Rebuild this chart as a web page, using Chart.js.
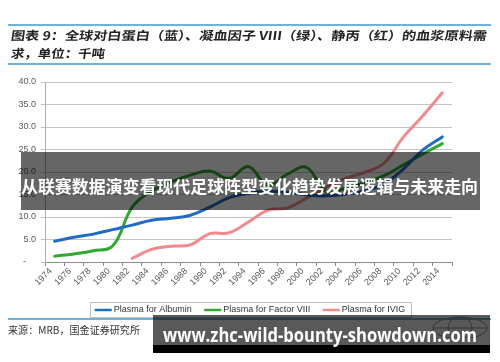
<!DOCTYPE html>
<html><head><meta charset="utf-8">
<script src="https://cdn.jsdelivr.net/npm/chart.js@4"></script>
<style>
html,body{margin:0;padding:0;background:#fff;}
#wrap{position:relative;width:500px;height:362px;overflow:hidden;background:#fff;}
#c{position:absolute;left:0;top:0;}
.rule{position:absolute;height:2px;background:#6ab4dc;}
.t{position:absolute;white-space:nowrap;transform-origin:0 0;}
</style></head><body>
<div id="wrap">
<canvas id="c" width="500" height="362"></canvas>
<div class="rule" style="left:8px;top:24px;width:483px"></div>
<div class="t" id="t1" style="left:12px;top:29px;font:700 12px/12px 'Noto Sans CJK SC';color:#222">图表 9：全球对白蛋白（蓝）、凝血因子 VIII（绿）、静丙（红）的血浆原料需</div>
<div class="t" id="t2" style="left:12px;top:47px;font:700 12px/12px 'Noto Sans CJK SC';color:#222">求，单位：千吨</div>
<div class="rule" style="left:8px;top:63px;width:483px"></div>
<div class="rule" style="left:8px;top:318px;width:483px;height:1.5px"></div>
<div class="t" id="src" style="left:8px;top:325px;font:400 10px/10px 'Noto Sans CJK SC';color:#333">来源：MRB，国金证券研究所</div>
<svg style="position:absolute;left:425px;top:308px" width="70" height="30"><ellipse cx="35" cy="20" rx="27" ry="11" fill="none" stroke="#999" stroke-width="1"/><ellipse cx="35" cy="20" rx="12" ry="11" fill="none" stroke="#999" stroke-width="1"/><line x1="8" y1="20" x2="62" y2="20" stroke="#999"/></svg>
<div style="position:absolute;left:21px;top:152px;width:459px;height:58px;background:rgba(0,0,0,0.6)"></div>
<div class="t" id="b1" style="left:21px;top:176.5px;font:700 17px/17px 'Noto Sans CJK SC';color:#fff">从联赛数据演变看现代足球阵型变化趋势发展逻辑与未来走向</div>
<div style="position:absolute;left:153px;top:315px;width:337px;height:30px;background:rgba(0,0,0,0.65)"></div>
<div style="position:absolute;left:153px;top:345px;width:337px;height:8px;background:#000"></div>
<div class="t" id="b2" style="left:163px;top:326px;font:700 19px/19px 'Open Sans';color:#fff">www.zhc-wild-bounty-showdown.com</div>
</div>
<script>
const years = ['1974','1976','1978','1980','1982','1984','1986','1988','1990','1992','1994','1996','1998','2000','2002','2004','2006','2008','2010','2012','2014'];
const seriesNames = ['Plasma for Albumin','Plasma for Factor VIII','Plasma for IVIG'];
const albumin = [4.6, 5.5, 6.2, 7.2, 8.2, 9.3, 9.7, 10.4, 12.2, 14.3, 15.3, 15.7, 15.5, 14.9, 14.7, 15.1, 15.8, 17.4, 20.7, 24.9, 27.8];
const factorVIII = [1.3, 1.8, 2.5, 3.6, 12.2, 15.8, 17.8, 19.3, 20.2, 18.6, 21.2, 17.0, 19.5, 21.0, 15.6, 16.4, 17.6, 19.2, 21.6, 24.0, 26.3];
const ivig = [null, null, null, null, 0.8, 2.8, 3.5, 3.8, 6.3, 6.5, 8.9, 11.5, 12.0, 14.2, 16.6, 18.6, 19.9, 22.0, 27.8, 32.5, 37.6];
const colors = ['#1f6cc4', '#2eab2e', '#f4898c'];

function fit(id, w, extra) {
  const el = document.getElementById(id);
  const cur = el.getBoundingClientRect().width;
  el.style.transform = (extra || '') + ' scaleX(' + (w / cur) + ')';
}
fit('t1', 476, 'skewX(-8deg)');
fit('t2', 94, 'skewX(-8deg)');
fit('src', 132);
fit('b1', 457);
fit('b2', 314);

const legendPlugin = {
  id: 'boxLegend',
  afterDraw(chart) {
    const ctx = chart.ctx;
    ctx.save();
    ctx.font = '9px "Liberation Sans"';
    const sample = 17, gap1 = 2, gap2 = 12.5, padX = 5;
    const widths = chart.data.datasets.map(d => ctx.measureText(d.label).width);
    let total = padX * 2;
    widths.forEach((w, i) => { total += sample + gap1 + w + (i < widths.length - 1 ? gap2 : 0); });
    const left = 250 - total / 2, top = 302, h = 15;
    ctx.strokeStyle = '#bfbfbf'; ctx.lineWidth = 1;
    ctx.strokeRect(Math.round(left) + 0.5, top + 0.5, Math.round(total), h);
    let x = left + padX;
    const yc = top + h / 2 + 0.5;
    chart.data.datasets.forEach((d, i) => {
      ctx.strokeStyle = d.borderColor; ctx.lineWidth = 2.5;
      ctx.beginPath(); ctx.moveTo(x, yc); ctx.lineTo(x + sample, yc); ctx.stroke();
      x += sample + gap1;
      ctx.fillStyle = '#333'; ctx.textBaseline = 'middle'; ctx.textAlign = 'left';
      ctx.fillText(d.label, x, yc);
      x += widths[i] + gap2;
    });
    ctx.restore();
  }
};

const mk = (i, data) => ({label: seriesNames[i], data, borderColor: colors[i], backgroundColor: colors[i], borderWidth: 3, pointRadius: 0, tension: 0.4, fill: false, borderCapStyle: 'round'});

new Chart(document.getElementById('c').getContext('2d'), {
  type: 'line',
  data: {labels: years, datasets: [mk(0, albumin), mk(1, factorVIII), mk(2, ivig)]},
  options: {
    responsive: false, animation: false, devicePixelRatio: 1,
    layout: {padding: {top: 82, right: 48, bottom: 60, left: 0}},
    plugins: {legend: {display: false}, tooltip: {enabled: false}},
    scales: {
      x: {
        type: 'category', offset: true,
        grid: {display: true, offset: true, drawOnChartArea: false, drawTicks: true, tickLength: 4, color: '#8c8c8c'},
        border: {color: '#8c8c8c'},
        ticks: {autoSkip: false, maxRotation: 45, minRotation: 45, font: {size: 9, family: 'Liberation Sans'}, color: '#595959', padding: 0, labelOffset: -4},
        afterFit(s) { s.height = 40; }
      },
      y: {
        min: 0, max: 40,
        ticks: {stepSize: 5, font: {size: 9, family: 'Liberation Sans'}, color: '#595959', padding: 5,
          callback: v => v === 0 ? '-    ' : v.toFixed(1)},
        grid: {color: '#c4c4c4', tickLength: 4},
        border: {color: '#b0b0b0'},
        afterFit(s) { s.width = 45; }
      }
    }
  },
  plugins: [legendPlugin]
});
</script>
</body></html>
